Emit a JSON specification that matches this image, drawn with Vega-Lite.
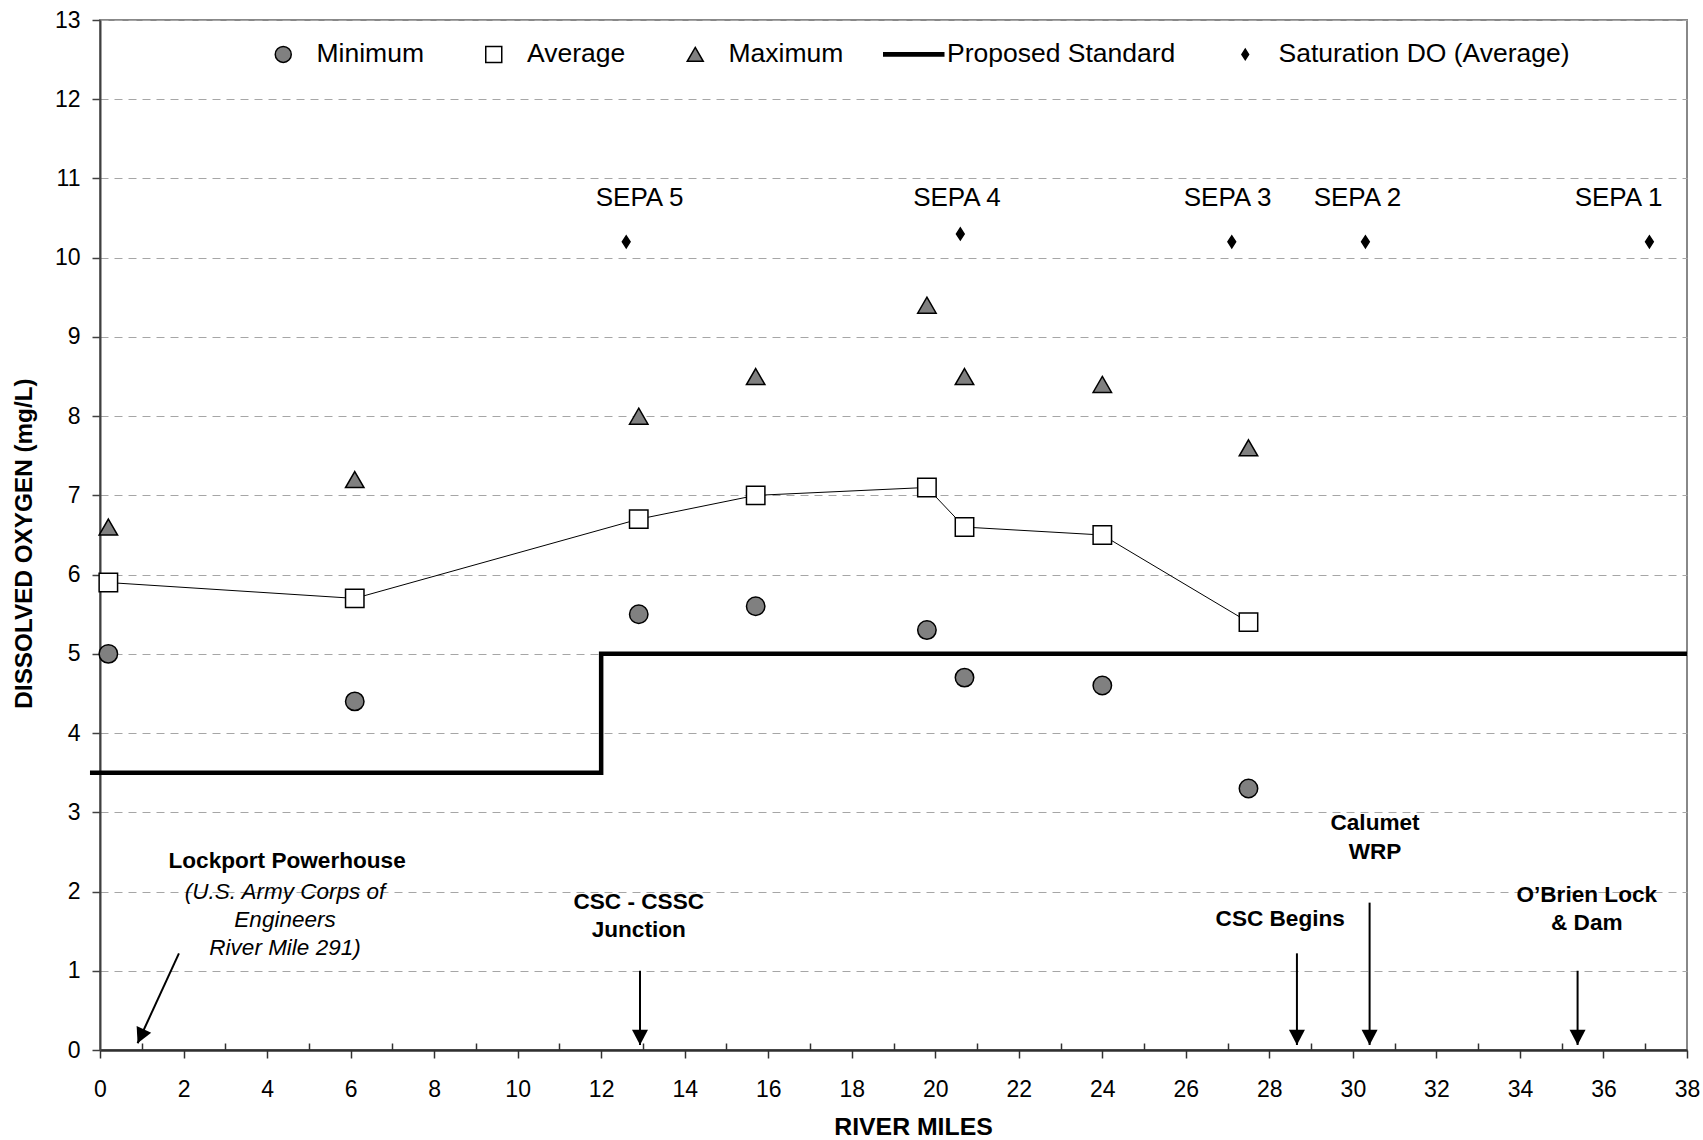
{
  "$schema": "https://vega.github.io/schema/vega-lite/v6.json",
  "width": 1587,
  "height": 1030,
  "autosize": {"type": "none"},
  "padding": {"left": 100, "top": 20, "right": 16, "bottom": 90},
  "background": "white",
  "config": {
    "view": {"stroke": "#888888", "strokeWidth": 2},
    "font": "Liberation Sans",
    "axis": {"labelFont": "Liberation Sans", "titleFont": "Liberation Sans", "labelColor": "black", "titleColor": "black", "labelFontSize": 23, "titleFontSize": 24, "titleFontWeight": "bold"},
    "legend": {"orient": "none", "legendX": 170, "legendY": 21, "direction": "horizontal", "labelFont": "Liberation Sans", "labelFontSize": 26.5, "labelColor": "black", "symbolSize": 256, "labelOffset": 20, "columnPadding": 36.5, "labelLimit": 0, "padding": 0}
  },
  "datasets": {
    "do_points": [
      {"series": "Minimum", "mile": 0.2, "do": 5.0},
      {"series": "Minimum", "mile": 6.1, "do": 4.4},
      {"series": "Minimum", "mile": 12.9, "do": 5.5},
      {"series": "Minimum", "mile": 15.7, "do": 5.6},
      {"series": "Minimum", "mile": 19.8, "do": 5.3},
      {"series": "Minimum", "mile": 20.7, "do": 4.7},
      {"series": "Minimum", "mile": 24.0, "do": 4.6},
      {"series": "Minimum", "mile": 27.5, "do": 3.3},
      {"series": "Average", "mile": 0.2, "do": 5.9},
      {"series": "Average", "mile": 6.1, "do": 5.7},
      {"series": "Average", "mile": 12.9, "do": 6.7},
      {"series": "Average", "mile": 15.7, "do": 7.0},
      {"series": "Average", "mile": 19.8, "do": 7.1},
      {"series": "Average", "mile": 20.7, "do": 6.6},
      {"series": "Average", "mile": 24.0, "do": 6.5},
      {"series": "Average", "mile": 27.5, "do": 5.4},
      {"series": "Maximum", "mile": 0.2, "do": 6.6},
      {"series": "Maximum", "mile": 6.1, "do": 7.2},
      {"series": "Maximum", "mile": 12.9, "do": 8.0},
      {"series": "Maximum", "mile": 15.7, "do": 8.5},
      {"series": "Maximum", "mile": 19.8, "do": 9.4},
      {"series": "Maximum", "mile": 20.7, "do": 8.5},
      {"series": "Maximum", "mile": 24.0, "do": 8.4},
      {"series": "Maximum", "mile": 27.5, "do": 7.6},
      {"series": "Saturation DO (Average)", "mile": 12.6, "do": 10.2},
      {"series": "Saturation DO (Average)", "mile": 20.6, "do": 10.3},
      {"series": "Saturation DO (Average)", "mile": 27.1, "do": 10.2},
      {"series": "Saturation DO (Average)", "mile": 30.3, "do": 10.2},
      {"series": "Saturation DO (Average)", "mile": 37.1, "do": 10.2}
    ],
    "standard": [
      {"mile": -0.24, "do": 3.5},
      {"mile": 12, "do": 5},
      {"mile": 38, "do": 5}
    ],
    "sepa": [
      {"mile": 12.92, "do": 10.75, "label": "SEPA 5"},
      {"mile": 20.52, "do": 10.75, "label": "SEPA 4"},
      {"mile": 27.0, "do": 10.75, "label": "SEPA 3"},
      {"mile": 30.11, "do": 10.75, "label": "SEPA 2"},
      {"mile": 36.36, "do": 10.75, "label": "SEPA 1"}
    ],
    "notes": [
      {"kind": "site", "mile": 4.48, "do": 2.38, "label": ["Lockport Powerhouse"]},
      {"kind": "detail", "mile": 4.43, "do": 2.0, "label": ["(U.S. Army Corps of", "Engineers", "River Mile 291)"]},
      {"kind": "site", "mile": 12.9, "do": 1.87, "label": ["CSC - CSSC", "Junction"]},
      {"kind": "site", "mile": 28.26, "do": 1.65, "label": ["CSC Begins"]},
      {"kind": "site", "mile": 30.53, "do": 2.86, "label": ["Calumet", "WRP"]},
      {"kind": "site", "mile": 35.6, "do": 1.96, "label": ["O’Brien Lock", "& Dam"]}
    ],
    "arrows": [
      {"mile": 1.89, "do": 1.22, "mile2": 0.9, "do2": 0.085},
      {"mile": 12.93, "do": 1.0, "mile2": 12.93, "do2": 0.063},
      {"mile": 28.66, "do": 1.22, "mile2": 28.66, "do2": 0.063},
      {"mile": 30.4, "do": 1.86, "mile2": 30.4, "do2": 0.063},
      {"mile": 35.38, "do": 1.0, "mile2": 35.38, "do2": 0.063}
    ]
  },
  "layer": [
    {
      "data": {"name": "standard"},
      "mark": {"type": "line", "interpolate": "step-after", "color": "black", "strokeWidth": 4.5, "clip": false},
      "encoding": {
        "x": {
          "field": "mile", "type": "quantitative",
          "scale": {"domain": [0, 38], "nice": false, "zero": false},
          "axis": {
            "title": "RIVER MILES",
            "titleFontSize": 24.8,
            "values": [0,1,2,3,4,5,6,7,8,9,10,11,12,13,14,15,16,17,18,19,20,21,22,23,24,25,26,27,28,29,30,31,32,33,34,35,36,37,38],
            "labelExpr": "datum.value % 2 === 0 ? datum.label : ''",
            "grid": false,
            "domainColor": "#303030", "domainWidth": 2.5,
            "tickColor": "#303030", "tickWidth": 1.5,
            "tickSize": {"condition": {"test": "datum.value % 2 === 0", "value": 8}, "value": -7},
            "labelPadding": 20, "labelFlush": false,
            "titleX": 813, "titleY": 64, "titleBaseline": "top"
          }
        },
        "y": {
          "field": "do", "type": "quantitative",
          "scale": {"domain": [0, 13], "nice": false, "zero": true},
          "axis": {
            "title": "DISSOLVED OXYGEN (mg/L)",
            "titleFontSize": 24.3,
            "values": [0,1,2,3,4,5,6,7,8,9,10,11,12,13],
            "format": "d",
            "grid": true, "gridDash": [8, 6], "gridColor": "#a6a6a6", "gridWidth": 1,
            "domainColor": "#404040", "domainWidth": 2,
            "tickColor": "#404040", "tickWidth": 1.5, "tickSize": 8,
            "labelPadding": 12, "labelFlush": false,
            "titleX": -76, "titleY": 523, "titleBaseline": "middle"
          }
        }
      }
    },
    {
      "data": {"name": "do_points"},
      "transform": [{"filter": "datum.series === 'Average'"}],
      "mark": {"type": "line", "color": "black", "strokeWidth": 1},
      "encoding": {
        "x": {"field": "mile", "type": "quantitative"},
        "y": {"field": "do", "type": "quantitative"}
      }
    },
    {
      "data": {"name": "do_points"},
      "mark": {"type": "point", "filled": true, "size": 340, "stroke": "black", "strokeWidth": 1.5, "opacity": 1},
      "encoding": {
        "x": {"field": "mile", "type": "quantitative"},
        "y": {"field": "do", "type": "quantitative"},
        "shape": {
          "field": "series", "type": "nominal",
          "scale": {
            "domain": ["Minimum", "Average", "Maximum", "Proposed Standard", "Saturation DO (Average)"],
            "range": [
              "M-3.75,0M1,0A1,1,0,1,1,-1,0A1,1,0,1,1,1,0Z",
              "M-3.75,0M-1,-1H1V1H-1Z",
              "M-3.75,0M0,-0.866L1,0.866L-1,0.866Z",
              "M-3.75,-0.19H3.75V0.19H-3.75Z",
              "M-3.75,0M0,-0.65L0.42,0L0,0.65L-0.42,0Z"
            ]
          },
          "legend": {
            "title": null,
            "encode": {"symbols": {"update": {"stroke": {"value": "black"}, "strokeWidth": {"value": 1.5}, "opacity": {"value": 1}}}}
          }
        },
        "fill": {
          "field": "series", "type": "nominal",
          "scale": {
            "domain": ["Minimum", "Average", "Maximum", "Proposed Standard", "Saturation DO (Average)"],
            "range": ["#808080", "#ffffff", "#808080", "#000000", "#000000"]
          },
          "legend": {
            "title": null,
            "encode": {"symbols": {"update": {"stroke": {"value": "black"}, "strokeWidth": {"value": 1.5}, "opacity": {"value": 1}}}}
          }
        }
      }
    },
    {
      "data": {"name": "sepa"},
      "mark": {"type": "text", "font": "Liberation Sans", "fontSize": 26, "color": "black", "align": "center", "baseline": "middle"},
      "encoding": {
        "x": {"field": "mile", "type": "quantitative"},
        "y": {"field": "do", "type": "quantitative"},
        "text": {"field": "label", "type": "nominal"}
      }
    },
    {
      "data": {"name": "notes"},
      "transform": [{"filter": "datum.kind === 'site'"}],
      "mark": {"type": "text", "font": "Liberation Sans", "fontSize": 22.6, "fontWeight": "bold", "color": "black", "align": "center", "baseline": "middle", "lineHeight": 28.5},
      "encoding": {
        "x": {"field": "mile", "type": "quantitative"},
        "y": {"field": "do", "type": "quantitative"},
        "text": {"field": "label", "type": "nominal"}
      }
    },
    {
      "data": {"name": "notes"},
      "transform": [{"filter": "datum.kind === 'detail'"}],
      "mark": {"type": "text", "font": "Liberation Sans", "fontSize": 22.5, "fontStyle": "italic", "color": "black", "align": "center", "baseline": "middle", "lineHeight": 28.3},
      "encoding": {
        "x": {"field": "mile", "type": "quantitative"},
        "y": {"field": "do", "type": "quantitative"},
        "text": {"field": "label", "type": "nominal"}
      }
    },
    {
      "data": {"name": "arrows"},
      "mark": {"type": "rule", "color": "black", "strokeWidth": 2},
      "encoding": {
        "x": {"field": "mile", "type": "quantitative"},
        "y": {"field": "do", "type": "quantitative"},
        "x2": {"field": "mile2"},
        "y2": {"field": "do2"}
      }
    },
    {
      "data": {"name": "arrows"},
      "transform": [{"filter": "datum.mile2 > 5"}],
      "mark": {"type": "point", "shape": "M0,0L-1,-1.9L1,-1.9Z", "filled": true, "color": "black", "size": 256, "opacity": 1},
      "encoding": {
        "x": {"field": "mile2", "type": "quantitative"},
        "y": {"field": "do2", "type": "quantitative"}
      }
    },
    {
      "data": {"name": "arrows"},
      "transform": [{"filter": "datum.mile2 < 5"}],
      "mark": {"type": "point", "shape": "M0,0L-1,-1.9L1,-1.9Z", "filled": true, "color": "black", "size": 256, "opacity": 1, "angle": 24.6},
      "encoding": {
        "x": {"field": "mile2", "type": "quantitative"},
        "y": {"field": "do2", "type": "quantitative"}
      }
    }
  ]
}
